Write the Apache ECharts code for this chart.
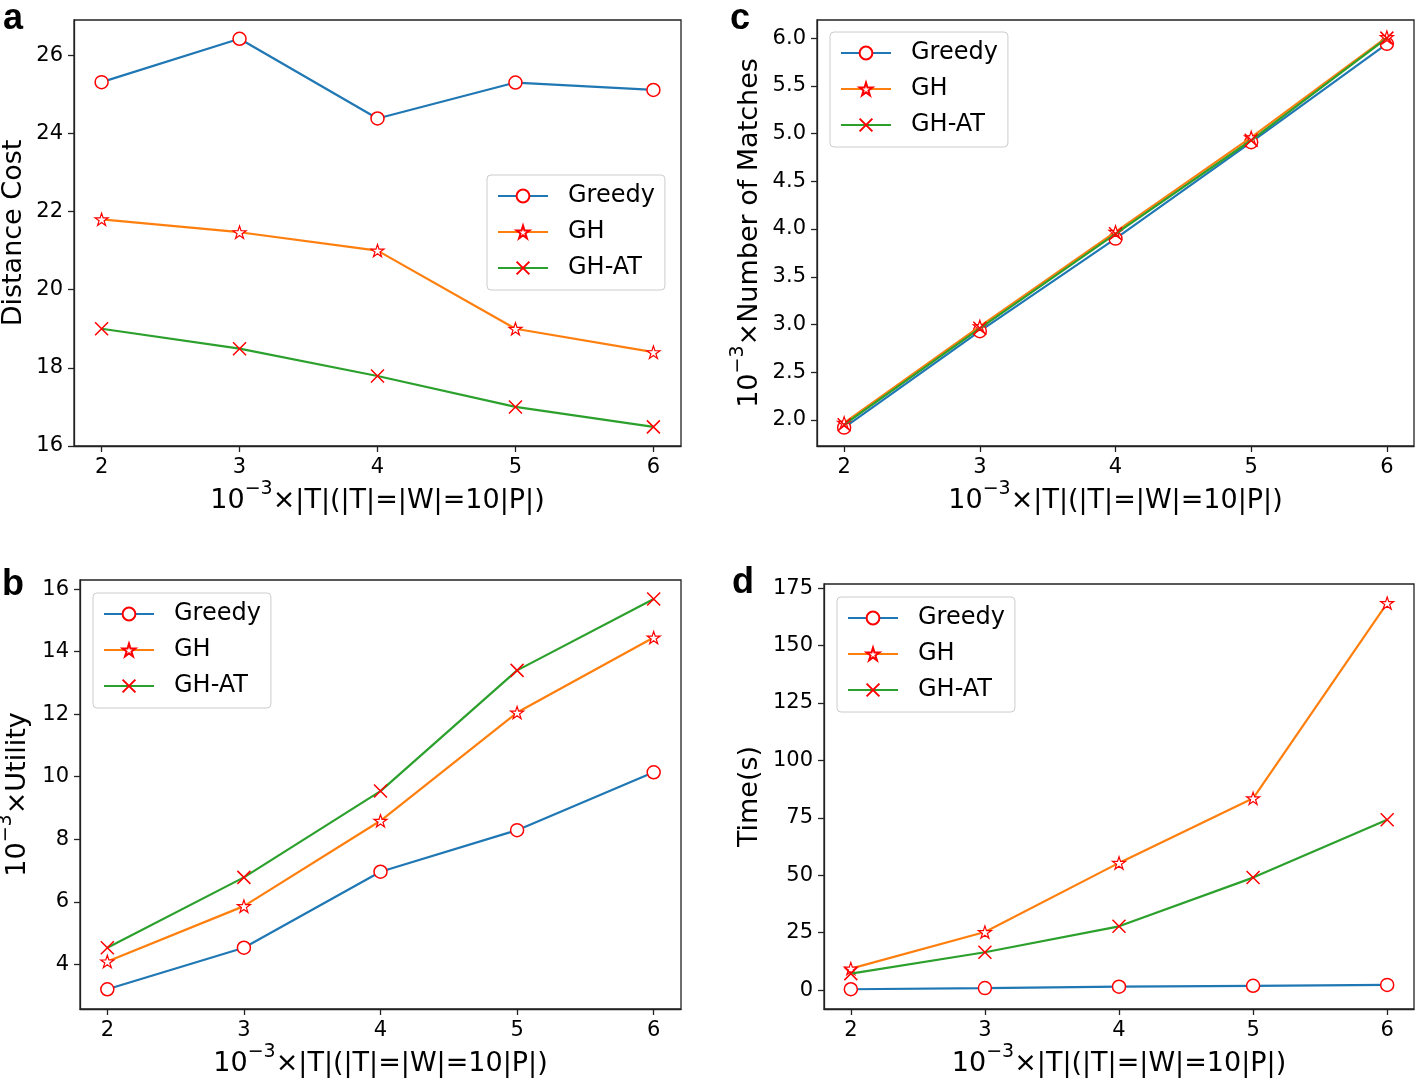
<!DOCTYPE html>
<html><head><meta charset="utf-8">
<script src="https://cdn.jsdelivr.net/npm/echarts@6/dist/echarts.min.js"></script>
<style>html,body{margin:0;padding:0;background:#fff}#c{width:1416px;height:1079px}</style>
</head><body><div id="c"></div>
<script>
const xValues = [2, 3, 4, 5, 6];
const seriesNames = ['Greedy', 'GH', 'GH-AT'];
// a: Distance Cost
const costGreedy = [25.31, 26.42, 24.38, 25.30, 25.11];
const costGH = [21.80, 21.47, 21.00, 19.00, 18.40];
const costGHAT = [19.00, 18.49, 17.79, 17.00, 16.49];
// c: Number of Matches
const matchGreedy = [1.92, 2.93, 3.90, 4.91, 5.94];
const matchGH = [1.97, 2.98, 3.97, 4.96, 6.01];
const matchGHAT = [1.95, 2.96, 3.95, 4.93, 6.00];
// b: Utility
const utilGreedy = [3.20, 4.53, 6.96, 8.29, 10.14];
const utilGH = [4.09, 5.86, 8.59, 12.05, 14.45];
const utilGHAT = [4.53, 6.78, 9.54, 13.40, 15.68];
// d: Time
const timeGreedy = [0.4, 0.9, 1.5, 1.9, 2.3];
const timeGH = [9.4, 25.3, 55.4, 83.5, 168.5];
const timeGHAT = [7.2, 16.5, 27.8, 49.0, 74.2];
// tick labels
const xTicks = [2, 3, 4, 5, 6];
const costTicks = [16, 18, 20, 22, 24, 26];
const matchTicks = [2.0, 2.5, 3.0, 3.5, 4.0, 4.5, 5.0, 5.5, 6.0];
const utilTicks = [4, 6, 8, 10, 12, 14, 16];
const timeTicks = [0, 25, 50, 75, 100, 125, 150, 175];

const lineColors = ['#1f77b4', '#ff7f0e', '#2ca02c'];
const markerRed = '#ff0000';
const STAR = 'path://M50,0L61.23,34.55L97.55,34.55L68.17,55.9L79.39,90.45L50,69.1L20.61,90.45L31.83,55.9L2.45,34.55L38.77,34.55Z';
const CROSS = 'path://M0,0L10,10M0,10L10,0';
const symbols = ['circle', STAR, CROSS];
const symSizes = [13, 13, 13];
const symBorders = [1.5, 1.2, 1.5];

const FONT = 'DejaVu Sans';
const xName = '{b|10}{s|\u22123}{b|\u00d7|T|(|T|=|W|=10|P|)}';
const rich = {
  b: {fontSize: 27, fontFamily: FONT, color: '#000', lineHeight: 34, verticalAlign: 'bottom'},
  s: {fontSize: 19, fontFamily: FONT, color: '#000', lineHeight: 22, verticalAlign: 'top'}
};

const panels = [
  {grid: {left: 74, top: 20, width: 607, height: 426}, ymin: 16, ymax: 26.9, yTicks: costTicks, fmt: v => String(v),
   yName: 'Distance Cost', nameGap: 47, data: [costGreedy, costGH, costGHAT], legend: {left: 487, top: 175}},
  {grid: {left: 817, top: 20, width: 597, height: 426}, ymin: 1.727, ymax: 6.19, yTicks: matchTicks, fmt: v => v.toFixed(1),
   yName: '{b|10}{s|\u22123}{b|\u00d7Number of Matches}', nameGap: 54, data: [matchGreedy, matchGH, matchGHAT], legend: {left: 830, top: 32}},
  {grid: {left: 80, top: 580, width: 601, height: 429}, ymin: 2.57, ymax: 16.29, yTicks: utilTicks, fmt: v => String(v),
   yName: '{b|10}{s|\u22123}{b|\u00d7Utility}', nameGap: 49, data: [utilGreedy, utilGH, utilGHAT], legend: {left: 93, top: 593}},
  {grid: {left: 824, top: 584, width: 590, height: 425}, ymin: -8.2, ymax: 176.8, yTicks: timeTicks, fmt: v => String(v),
   yName: 'Time(s)', nameGap: 61, data: [timeGreedy, timeGH, timeGHAT], legend: {left: 837, top: 597}}
];

const option = {
  animation: false,
  backgroundColor: '#fff',
  grid: [], xAxis: [], yAxis: [], series: [], legend: [],
  graphic: []
};
const axisLineStyle = {color: '#222', width: 1.3};
panels.forEach((p, i) => {
  option.grid.push(Object.assign({show: true, borderColor: '#222', borderWidth: 1.3, backgroundColor: 'transparent',
    containLabel: false, outerBoundsMode: 'none'}, p.grid));
  option.xAxis.push({
    type: 'value', gridIndex: i, min: 1.8, max: 6.2,
    axisLine: {show: true, onZero: false, lineStyle: axisLineStyle},
    axisTick: {show: true, length: 6, lineStyle: axisLineStyle, customValues: xTicks},
    axisLabel: {show: true, margin: 11, fontSize: 21, fontFamily: FONT, color: '#000', customValues: xTicks, formatter: v => String(v)},
    splitLine: {show: false},
    name: xName, nameLocation: 'middle', nameGap: 34,
    nameTextStyle: {rich: rich}
  });
  option.yAxis.push({
    type: 'value', gridIndex: i, min: p.ymin, max: p.ymax,
    axisLine: {show: true, onZero: false, lineStyle: axisLineStyle},
    axisTick: {show: true, length: 6, lineStyle: axisLineStyle, customValues: p.yTicks},
    axisLabel: {show: true, margin: 11, fontSize: 21, fontFamily: FONT, color: '#000', customValues: p.yTicks, formatter: p.fmt},
    splitLine: {show: false},
    name: p.yName.indexOf('{') === 0 ? p.yName : '{b|' + p.yName + '}',
    nameLocation: 'middle', nameGap: p.nameGap, nameRotate: 90,
    nameTextStyle: {rich: rich}
  });
  p.data.forEach((arr, k) => {
    option.series.push({
      type: 'line', name: seriesNames[k], xAxisIndex: i, yAxisIndex: i,
      data: xValues.map((x, j) => [x, arr[j]]),
      symbol: symbols[k], symbolSize: symSizes[k], symbolKeepAspect: true,
      showAllSymbol: true,
      lineStyle: {color: lineColors[k], width: 2.2},
      itemStyle: {color: '#fff', borderColor: markerRed, borderWidth: symBorders[k]},
      emphasis: {disabled: true},
      z: 2 + k
    });
  });
  option.legend.push({
    orient: 'vertical', left: p.legend.left, top: p.legend.top,
    data: seriesNames,
    itemWidth: 50, itemHeight: 16, itemGap: 8,
    padding: [7, 10, 8, 10],
    backgroundColor: 'rgba(255,255,255,0.8)', borderColor: '#cccccc', borderWidth: 1, borderRadius: 4,
    textStyle: {fontSize: 24, fontFamily: FONT, color: '#000', lineHeight: 28, padding: [0, 0, 0, 15]},
    selectedMode: false
  });
});
const letters = [['a', 3, 1], ['c', 730, 1], ['b', 2, 567], ['d', 732, 565]];
letters.forEach(([t, x, y]) => {
  option.graphic.push({type: 'text', left: x, top: y, style: {text: t, font: 'bold 36px "Liberation Sans"', fill: '#000'}});
});
const chart = echarts.init(document.getElementById('c'), null, {renderer: 'canvas'});
chart.setOption(option);
</script></body></html>
